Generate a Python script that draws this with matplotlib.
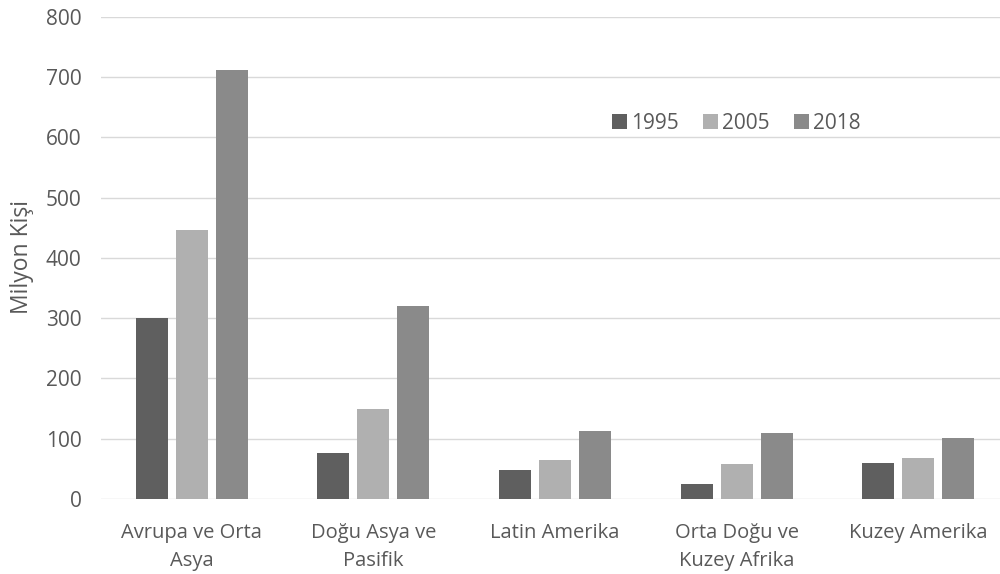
import matplotlib
matplotlib.use("Agg")
import matplotlib.pyplot as plt
import numpy as np

categories = ["Avrupa ve Orta\nAsya", "Doğu Asya ve\nPasifik", "Latin Amerika", "Orta Doğu ve\nKuzey Afrika", "Kuzey Amerika"]
years = ["1995", "2005", "2018"]
v1995 = [300, 76, 48, 25, 60]
v2005 = [446, 149, 65, 58, 68]
v2018 = [712, 320, 113, 110, 101]
colors = ["#5f5f5f", "#b0b0b0", "#8a8a8a"]
yticks = [0, 100, 200, 300, 400, 500, 600, 700, 800]

plt.rcParams['font.family'] = ['Open Sans', 'DejaVu Sans']
txt = "#595959"

fig = plt.figure(figsize=(10, 5.74), dpi=100)
ax = fig.add_axes([0.101, 0.1307, 0.908, 0.8397])
x = np.arange(len(categories))
w = 0.176
off = 0.22
for i, (vals, lab) in enumerate(zip([v1995, v2005, v2018], years)):
    ax.bar(x + (i - 1) * off, vals, w, color=colors[i], label=lab, zorder=3)

ax.set_xlim(-0.5, len(categories) - 0.5)
ax.set_ylim(0, 800)
ax.set_yticks(yticks)
ax.set_xticks(x)
ax.set_xticklabels(categories, color=txt, fontsize=14.5, linespacing=1.55)
ax.tick_params(axis='y', colors=txt, labelsize=15, length=0, pad=14)
ax.tick_params(axis='x', length=0, pad=17)
ax.grid(axis='y', color="#d9d9d9", linewidth=1, zorder=0)
for s in ax.spines.values():
    s.set_visible(False)
fig.text(0.022, 1 - 257 / 574, "Milyon Kişi", rotation=90, ha='center', va='center',
         color=txt, fontsize=16.5)
ax.legend(loc='center', bbox_to_anchor=(0.7, 0.78), ncol=3, frameon=False,
          fontsize=15, labelcolor=txt, handlelength=0.72, handleheight=0.72,
          handletextpad=0.2, columnspacing=1.15)
fig.savefig("out.png", dpi=100)
